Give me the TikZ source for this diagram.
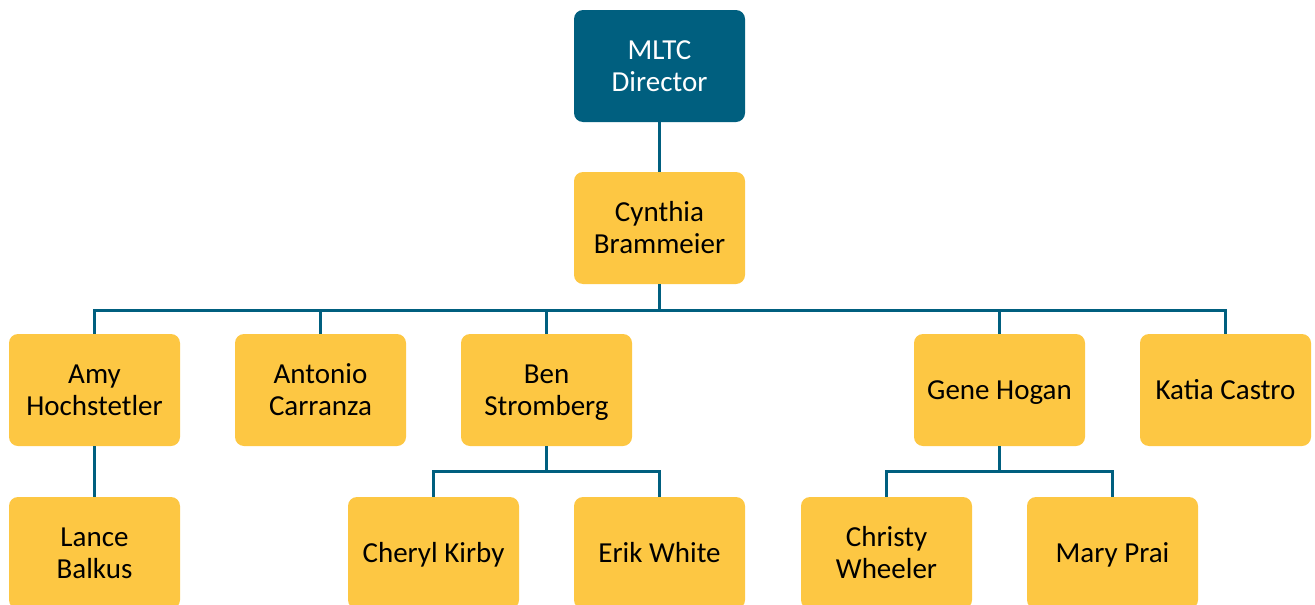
\documentclass[tikz,border=0pt]{standalone}
\usepackage{fontspec}
\setmainfont{Carlito}
\definecolor{teal}{RGB}{0,95,127}
\definecolor{gold}{RGB}{253,199,67}
\newcommand\stt{\rule[-6.6pt]{0pt}{32pt}}
\begin{document}
\begin{tikzpicture}[x=1pt,y=1pt,
  box/.style={draw=none,rounded corners=9pt,minimum width=171pt,minimum height=112pt,
    align=center,inner sep=0pt,font=\fontsize{29}{32}\selectfont},
  topbox/.style={box,fill=teal,text=white},
  person/.style={box,fill=gold,text=black},
  link/.style={draw=teal,line width=2.6pt}]
\useasboundingbox (0,0) rectangle (1315,-605);
\clip (0,0) rectangle (1315,-605);
\node[topbox] (dir) at (659.5,-66) {\stt MLTC\\\stt Director};
\node[person] (cyn) at (659.5,-228) {\stt Cynthia\\\stt Brammeier};
\node[person] (amy) at (94.5,-390) {\stt Amy\\\stt Hochstetler};
\node[person] (ant) at (320.5,-390) {\stt Antonio\\\stt Carranza};
\node[person] (ben) at (546.5,-390) {\stt Ben\\\stt Stromberg};
\node[person] (gene) at (999.5,-390) {\stt Gene Hogan};
\node[person] (kat) at (1225.5,-390) {\stt Katia Castro};
\node[person] (lan) at (94.5,-553) {\stt Lance\\\stt Balkus};
\node[person] (che) at (433.5,-553) {\stt Cheryl Kirby};
\node[person] (eri) at (659.5,-553) {\stt Erik White};
\node[person] (chr) at (886.5,-553) {\stt Christy\\\stt Wheeler};
\node[person] (mar) at (1112.5,-553) {\stt Mary Prai};
\draw[link] (dir) -- (cyn);
\foreach \c in {amy,ant,ben,gene,kat}
  \draw[link] (cyn.south) -- ++(0,-26) -| (\c.north);
\draw[link] (amy) -- (lan);
\foreach \c in {che,eri}
  \draw[link] (ben.south) -- ++(0,-25) -| (\c.north);
\foreach \c in {chr,mar}
  \draw[link] (gene.south) -- ++(0,-25) -| (\c.north);
\end{tikzpicture}
\end{document}
